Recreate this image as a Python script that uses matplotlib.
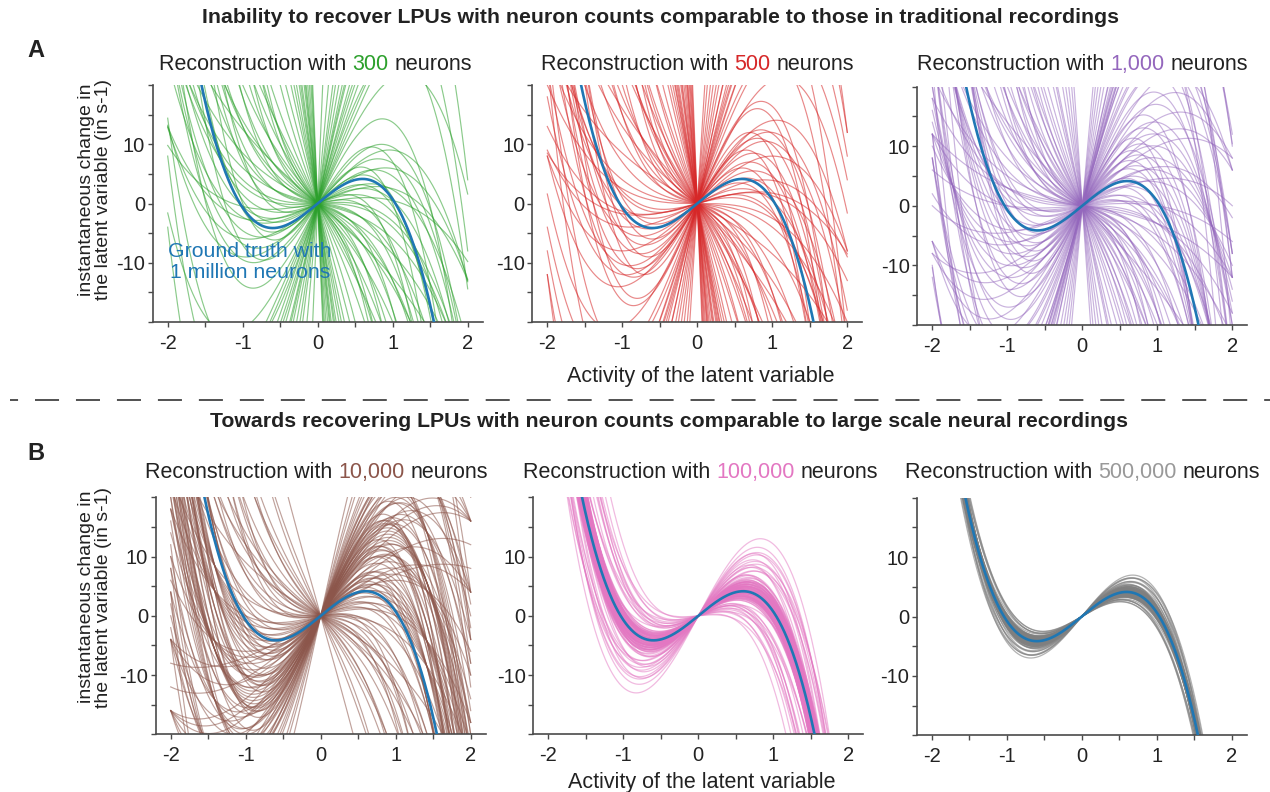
import numpy as np
import matplotlib
matplotlib.use("Agg")
import matplotlib.pyplot as plt
from matplotlib.lines import Line2D

plt.rcParams['font.family'] = ['Liberation Sans', 'DejaVu Sans']
plt.rcParams['axes.unicode_minus'] = False
plt.rcParams['lines.scale_dashes'] = False

# ---------------- data ----------------
# ground truth: f(x) = gt_a * x + gt_c * x^3
gt_a = 10.4
gt_c = -9.7

neuron_labels = ["300", "500", "1,000", "10,000", "100,000", "500,000"]
panel_colors = ["#2ca02c", "#d62728", "#9467bd", "#8c564b", "#e377c2", "#7f7f7f"]

# each reconstruction: f(x) = a * x + c * x^3
a300 = [24.9, 17.6, 14.1, 11.4, 7.1, 6.3, 4.5, 14.2, 10, 2.3, 20, 8.5, 16, 5.5, 12, 28,
        36.8, 3, 1, 6,
        -2, -5, -8, -12, -15, -20, -28, -35, -45, -3, 0, -6, -10, -1, -4, -9, -14, -18,
        -24, -7, -11, -16,
        -55, -62, -70, -80, -95, -110, -130, -150, -180, -220, -260, -300, -88, -120,
        30, 33, 38, 42, 48, 55, 62, 72, 85, 100, 140, 300, 46, 58]
c300 = [-11.2, -8.1, -7.3, -6.8, -4.8, -5.8, -6.0, -5.2, -4.1, -1.8, -13, -9, -16, -3, -11, -6.8,
        -11, -10, -4, -14,
        -6, -8, -10, -12, -5, -15, -10, -20, -10, -3, -4, -2.5, -4, -9, -14, -20, -25, -8,
        -3, -6, -1.5, -30,
        -8, -12, -5, -15, -6, -10, -4, -12, -7, -9, -14, -5, -3, -18,
        -2, -4, -3, -6, -5, -10, -7, -12, -9, -14, -8, -10, -12.5, -14]

a500 = [30.4, 30, 22, 20.6, 17, 15, 9.9, 6.25, 4.5, 17.5, 19, 11, 3.9, 12, 3.75, 15, 9.5,
        3.3, 20, 6.7, 25.7, 20.8,
        50, 42, 34, 28, 60,
        -2, -4, -6, -9, -12, -15, -18, -22, -26, -30, -35, -40, -1, 0, -3, -5, -8, -10,
        -14, -20, -7, -11, -16, -24, -48,
        -55, -60, -65, -72, -80, -90, -100, -112, -125, -140, -160, -185, -210, -240,
        -280, -320, -75, -95, -150, -68,
        40, 45, 52, 60, 70, 80, 95, 115, 150, 200, 48, 38]
c500 = [-14, -15.6, -10.2, -10.7, -10.1, -10.2, -7.8, -5.8, -6, -7.2, -7, -6.5, -2.6, -4, -2,
        -13.9, -10.5, -5.4, -6, -2.8, -17.5, -16.4,
        -11, -9.5, -8, -7.2, -13.5,
        -5, -7, -9, -11, -6, -14, -9, -18, -12, -22, -8, -16, -3, -2.5, -12, -18, -25, -3,
        -2, -4, -1.5, -30, -26, -6, -20,
        -5, -10, -15, -8, -12, -6, -14, -9, -16, -7, -11, -13, -8, -10, -15, -6, -20, -18,
        -20, -3,
        -3, -6, -4, -8, -6, -10, -12, -9, -14, -10, -15, -13]

a1000 = [30, 26, 22, 19, 16, 13, 10, 7, 34, 38, 28, 24, 20, 17, 14, 11, 8, 5, 3, 25, 21, 18,
         15, 12, 9, 6, 4, 32, 36, 40, 27, 23, 2, 44, 48,
         50, 46, 55,
         -2, -4, -6, -8, -10, -12, -15, -18, -22, -26, -1, 0, -3, -5, -7, -9, -11, -14, -17,
         -20, -24, -28, -32, -36, -42, -3, -6, -9, -1, -4,
         -50, -60, -75, -90, -110, -140, -180, -55, 45, 52, 60, 70, 82, 96, 115, 140, 60, 52, 45,
         1, 12, -13, 6, 9, -2, 15, 18]
c1000 = [-11, -9, -8, -7, -6, -5, -4, -3, -12, -13, -14, -12, -11, -10, -9, -8, -7, -6, -5, -18,
         -16, -15, -13, -12, -11, -10, -9, -9, -10, -11, -6, -5, -2, -12.5, -13.5,
         -11.2, -10, -12.5,
         -4, -6, -8, -10, -12, -14, -16, -18, -20, -22, -2, -3, -2, -3, -5, -4, -7, -6, -9,
         -5, -11, -8, -14, -10, -6, -15, -22, -28, -9, -12,
         -10, -5, -14, -8, -12, -6, -10, -20, -4, -7, -9, -5, -12, -8, -14, -10, -18, -20, -16,
         -1, -2, -1, -1.5, -2.5, -1, -3, -3.5]

a10k = [20, 22, 24, 26, 19, 21, 23, 25, 27, 18, 28, 30, 32, 34, 36, 29, 31, 33, 35, 38,
        40, 22, 24, 26, 20, 23, 25, 21, 19, 27, 37, 42, 30, 28, 24, 22, 26, 32, 20, 18,
        15, 13, 11, 9, 7, 5, 16, 14, 12, 10, 8, 6, 4, 17, 15, 13, 11, 9, 16, 14, 12, 10, 3, 7, 5,
        1, 0, -2, -4, -6, -8, -10, -12, -15, -18, -1, -3, -5, 2, -7, -9, -20, -14, 0, 2,
        20, 24, 16, 28, 12, 8, 32, 18, 14, 10, 26, 22,
        -30, -45, 50, 58, -25, 46]
c10k = [-8, -9, -10, -11, -7, -8.5, -9.5, -10.5, -12, -8, -9, -10, -11, -12, -13, -14, -15, -8,
        -9, -10, -11, -6, -7, -6.5, -12, -13, -14, -11, -10, -8, -14, -12, -7, -12.5, -8.5,
        -11.5, -9.5, -13, -9.8, -11,
        -9, -8, -7, -6, -5, -4, -11, -10, -9, -8, -7, -6, -5, -7, -6, -5, -4, -3, -13, -12,
        -11, -10, -3, -9, -8,
        -5, -7, -6, -8, -5, -9, -4, -7, -10, -6, -12, -15, -11, -14, -2, -3, -8, -13, -3, -9,
        -3, -4, -2, -5, -1.5, -1, -6, -2.5, -3, -2, -3.5, -5,
        -8, -6, -12, -15, -15, -9]

a100k = [10.2, 11.5, 8.3, 12.8, 9.4, 13.6, 7.8, 11.0, 12.1, 9.0,
         14.2, 10.7, 8.6, 13.1, 9.8, 11.9, 7.6, 12.5, 10.4, 14.5,
         8.9, 11.3, 13.3, 9.6, 12.3, 10.0, 8.1, 13.9, 11.7, 9.2,
         12.9, 10.9, 7.9, 14.0, 9.9, 11.2, 8.4, 13.4, 10.5, 12.0,
         9.3, 11.6, 8.7, 13.0, 10.1, 12.6, 9.5, 11.4, 7.7, 12.2,
         10.6, 11.1, 9.7, 12.4, 8.8, 13.5, 10.3, 11.8, 9.1, 12.7,
         10.8, 9.4, 11.0, 13.2, 8.5, 10.0, 12.1, 9.8, 11.5, 10.4,
         13.7, 8.2, 12.3, 9.0, 11.3, 10.7, 12.9, 9.6, 11.6, 10.1,
         23.6, 22.0, 20.5, 19.5, 18.2, 17.5, 16.8, 16.0, 15.6, 15.2,
         21.2, 17.0, 2.0, 3.2, 4.0, 4.6, 5.2, 5.8, 6.4, 6.8,
         3.0, 5.5, 6.0, 7.0, 18.8, 16.4, 1.2, 4.3, 15.0, 19.8]
c100k = [-9.8, -10.4, -9.1, -10.9, -10.2, -10.5, -8.9, -9.5, -11.2, -9.6,
         -11.4, -10.6, -8.7, -10.0, -9.2, -10.1, -9.4, -10.3, -11.0, -10.8,
         -10.0, -9.0, -11.6, -8.8, -9.7, -10.4, -9.7, -10.9, -10.7, -9.3,
         -11.3, -9.9, -8.6, -10.2, -10.8, -9.4, -9.9, -11.0, -9.1, -10.5,
         -9.5, -11.1, -9.2, -9.8, -10.1, -11.5, -8.9, -10.0, -9.6, -9.6,
         -10.0, -10.3, -9.4, -10.8, -9.0, -11.1, -9.6, -9.8, -10.1, -10.2,
         -11.3, -8.9, -10.6, -10.4, -9.5, -9.3, -11.0, -10.5, -9.3, -10.2,
         -11.7, -8.8, -10.6, -9.9, -10.9, -9.5, -10.0, -10.6, -9.6, -9.9,
         -11.5, -11.8, -11.2, -12.3, -10.6, -11.9, -10.4, -12.6, -9.8, -11.3,
         -12.8, -9.6, -14.0, -11.5, -13.2, -8.8, -12.0, -9.5, -13.0, -10.8,
         -8.0, -7.2, -11.6, -12.4, -13.4, -13.8, -9.6, -10.4, -8.8, -10.9]

a500k = [10.1, 10.8, 9.6, 11.3, 9.2, 10.5, 11.8, 9.9, 10.3, 8.9,
         11.0, 12.2, 9.4, 10.7, 8.6, 11.5, 10.0, 12.6, 9.1, 10.9,
         11.9, 9.7, 10.4, 8.8, 11.2, 10.2, 12.0, 9.5, 10.6, 11.6,
         9.0, 10.95, 9.8, 12.4, 10.15, 11.4, 8.7, 10.55, 11.7, 9.35,
         10.85, 12.8, 9.65, 11.1, 10.35, 8.95, 11.85, 10.05, 9.25, 12.1,
         10.4, 10.7, 9.9, 11.1, 10.2, 9.6, 11.4, 10.0, 10.9, 9.3,
         11.7, 10.6, 9.8, 11.2, 10.3, 12.3, 9.1, 10.8, 11.5, 9.7,
         15.4, 14.6, 13.8, 14.2, 13.5, 7.2, 7.6, 8.0, 7.9, 13.2,
         8.3, 14.9, 13.0, 8.2, 7.4]
c500k = [-9.5, -9.9, -9.3, -10.2, -9.1, -9.6, -10.4, -9.8, -9.2, -9.0,
         -9.7, -10.6, -9.6, -10.1, -8.8, -9.9, -9.4, -10.8, -9.4, -9.5,
         -10.0, -9.0, -10.0, -9.3, -10.5, -9.7, -10.3, -9.2, -9.3, -10.7,
         -8.9, -10.3, -9.6, -10.1, -9.1, -10.0, -9.1, -9.8, -10.2, -9.5,
         -9.4, -10.9, -9.7, -9.8, -9.9, -9.2, -10.6, -9.35, -8.95, -10.45,
         -9.7, -9.6, -9.5, -10.0, -9.9, -9.4, -10.3, -9.6, -10.1, -9.2,
         -10.5, -9.8, -9.7, -9.9, -9.5, -10.7, -9.2, -10.0, -10.2, -9.3,
         -11.1, -10.8, -11.2, -10.2, -10.4, -9.0, -8.6, -9.4, -8.4, -11.5,
         -8.2, -11.6, -9.9, -9.8, -9.3]

x_ticks = [-2, -1.5, -1, -0.5, 0, 0.5, 1, 1.5, 2]
x_ticklabels = ["-2", "", "-1", "", "0", "", "1", "", "2"]
y_ticks = [-20, -15, -10, -5, 0, 5, 10, 15, 20]
y_ticklabels = ["", "", "-10", "", "0", "", "10", "", ""]

title_A = "Inability to recover LPUs with neuron counts comparable to those in traditional recordings"
title_B = "Towards recovering LPUs with neuron counts comparable to large scale neural recordings"
ylabel_text = "instantaneous change in\nthe latent variable (in s-1)"
xlabel_text = "Activity of the latent variable"

# ---------------- figure ----------------
W, H = 1270, 792
fig = plt.figure(figsize=(W / 100, H / 100), dpi=100)
renderer = fig.canvas.get_renderer()
TXT = "#222222"
GT_BLUE = "#1f77b4"
FS = 15.5


def px_rect(left, top, w, h):
    return [left / W, 1 - (top + h) / H, w / W, h / H]


rects = [
    px_rect(152.7, 85, 330, 237),
    px_rect(532.3, 85, 330, 237),
    px_rect(917.3, 86.5, 330, 238.5),
    px_rect(155.7, 497.3, 330, 237),
    px_rect(533.3, 497.3, 330, 237),
    px_rect(916.7, 497.8, 330, 237.5),
]
coef_sets = [(a300, c300), (a500, c500), (a1000, c1000),
             (a10k, c10k), (a100k, c100k), (a500k, c500k)]
alphas = [0.55, 0.55, 0.5, 0.55, 0.5, 0.6]
widths = [0.85, 0.85, 0.85, 0.85, 0.9, 0.9]

x_grid = np.linspace(-2, 2, 801)


def text_w(s, **kw):
    t = fig.text(0, 0, s, **kw)
    w = t.get_window_extent(renderer=renderer).width
    t.remove()
    return w


def rich_title(ax, pre, num, post, col, baseline_px, dx=0.0):
    bb = ax.get_position()
    cx = (bb.x0 + bb.x1) / 2 * W + dx
    full = f"{pre} {num} {post}"
    wf = text_w(full, fontsize=FS)
    x0 = cx - wf / 2
    xn = x0 + text_w(f"{pre} {num}", fontsize=FS) - text_w(num, fontsize=FS)
    yb = 1 - baseline_px / H
    fig.text(x0 / W, yb, pre, ha='left', va='baseline', fontsize=FS, color=TXT)
    fig.text(xn / W, yb, num, ha='left', va='baseline', fontsize=FS, color=col)
    fig.text((x0 + wf) / W, yb, post, ha='right', va='baseline', fontsize=FS, color=TXT)


title_dx = [-2, 0, 0, -4, 2, 1]

for i, (rect, (alist, clist), col, lab, al, lw) in enumerate(
        zip(rects, coef_sets, panel_colors, neuron_labels, alphas, widths)):
    ax = fig.add_axes(rect)
    for a, c in zip(alist, clist):
        ax.plot(x_grid, a * x_grid + c * x_grid ** 3, color=col, lw=lw, alpha=al)
    ax.plot(x_grid, gt_a * x_grid + gt_c * x_grid ** 3, color=GT_BLUE, lw=1.9, zorder=5)
    ax.set_xlim(-2.2, 2.2)
    ax.set_ylim(-20, 20)
    ax.set_xticks(x_ticks)
    ax.set_xticklabels(x_ticklabels)
    ax.set_yticks(y_ticks)
    ax.set_yticklabels(y_ticklabels)
    for s in ['top', 'right']:
        ax.spines[s].set_visible(False)
    for s in ['left', 'bottom']:
        ax.spines[s].set_color('#4a4a4a')
        ax.spines[s].set_linewidth(1.2)
    ax.tick_params(axis='both', direction='out', length=3.5, width=1.0,
                   color='#4a4a4a', labelsize=14.5, labelcolor=TXT)
    ax.tick_params(axis='x', pad=5)
    ax.tick_params(axis='y', pad=2)
    ax.patch.set_visible(False)
    title_col = col if lab != "500,000" else "#999999"
    rich_title(ax, "Reconstruction with", lab, "neurons", title_col,
               70 if i < 3 else 478, title_dx[i])
    if i == 0:
        ax.text(-0.90, -9.9, "Ground truth with\n1 million neurons", ha='center',
                va='center', color=GT_BLUE, fontsize=15.3, linespacing=1.15, zorder=6)

# headings
fig.text(661 / W, 1 - 23 / H, title_A, ha='center', va='baseline',
         fontsize=15.3, fontweight='bold', color=TXT)
fig.text(669 / W, 1 - 427 / H, title_B, ha='center', va='baseline',
         fontsize=15.3, fontweight='bold', color=TXT)
fig.text(27 / W, 1 - 57 / H, "A", ha='left', va='baseline', fontsize=17,
         fontweight='bold', color=TXT)
fig.text(27 / W, 1 - 460 / H, "B", ha='left', va='baseline', fontsize=17,
         fontweight='bold', color=TXT)

# y labels
for yc in (190, 597):
    fig.text(95 / W, 1 - yc / H, ylabel_text, rotation=90, ha='center', va='center',
             multialignment='center', fontsize=14, color=TXT, linespacing=1.0)

# x labels
fig.text(701 / W, 1 - 382 / H, xlabel_text, ha='center', va='baseline',
         fontsize=FS, color=TXT)
fig.text(702 / W, 1 - 788 / H, xlabel_text, ha='center', va='baseline',
         fontsize=FS, color=TXT)

# dashed separator
fig.add_artist(Line2D([10 / W, 1.0], [1 - 400 / H, 1 - 400 / H], transform=fig.transFigure,
                      color='#222222', lw=1.1, linestyle=(11.5, (17.3, 12.2))))

fig.savefig("out.png", dpi=100)
